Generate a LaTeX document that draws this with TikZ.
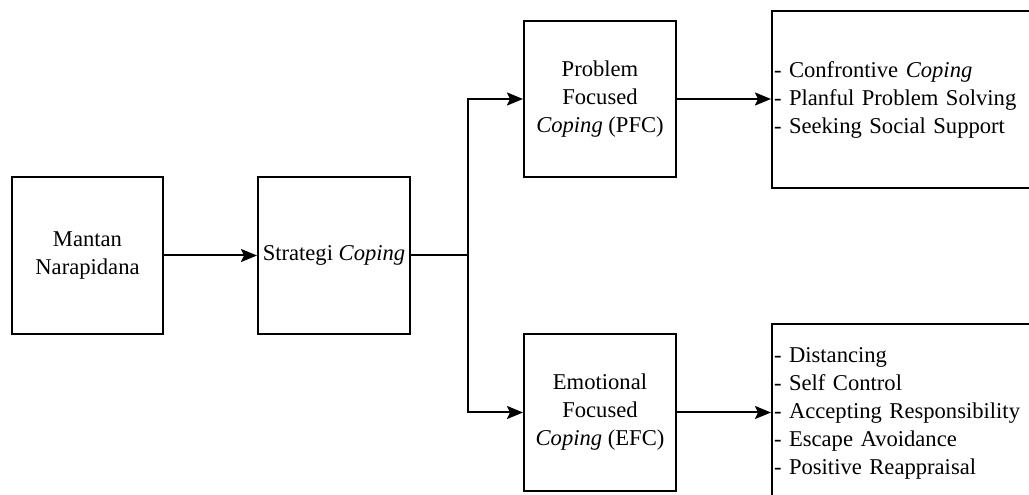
\documentclass[tikz,border=0pt]{standalone}
\usepackage{fontspec}
\setmainfont{Liberation Serif}
\usetikzlibrary{arrows.meta}
\begin{document}
\begin{tikzpicture}[x=1pt,y=1pt,
  box/.style={draw, line width=2pt, rectangle, align=center, inner sep=2pt,
    font=\fontsize{22.6}{28}\selectfont},
  listbox/.style={draw, line width=2pt, rectangle, align=left, inner xsep=2pt,
    text width=268pt, font=\fontsize{22.6}{28}\selectfont},
  conn/.style={line width=2pt, -{Stealth[length=16pt,width=13pt,inset=3pt]}},
  plain/.style={line width=2pt}]
\useasboundingbox (0,0) rectangle (1029,495);
\clip (0,0) rectangle (1029,495);
\node[box, minimum width=151pt, minimum height=157pt] (b1) at (87.5,239.5) {Mantan\\Narapidana};
\node[box, minimum width=152pt, minimum height=157pt] (b2) at (334,239.5) {Strategi \textit{Coping}};
\node[box, minimum width=152pt, minimum height=156pt] (pfc) at (600,396) {Problem\\Focused\\\textit{Coping} (PFC)};
\node[box, minimum width=152pt, minimum height=157pt] (efc) at (600,82.5) {Emotional\\Focused\\\textit{Coping} (EFC)};
\node[listbox, minimum height=177pt, anchor=west] (r1) at (771,395.5) {- Confrontive \textit{Coping}\\- Planful Problem Solving\\- Seeking Social Support};
\node[listbox, minimum height=178pt, anchor=west] (r2) at (771,82) {- Distancing\\- Self Control\\- Accepting Responsibility\\- Escape Avoidance\\- Positive Reappraisal};
\coordinate (j) at (468,239.5);
\draw[conn] (b1.east) -- (b2.west);
\draw[plain] (b2.east) -- (j);
\draw[conn] (j) |- (pfc.west);
\draw[conn] (j) |- (efc.west);
\draw[conn] (pfc.east) -- (pfc.east -| r1.west);
\draw[conn] (efc.east) -- (efc.east -| r2.west);
\end{tikzpicture}
\end{document}
